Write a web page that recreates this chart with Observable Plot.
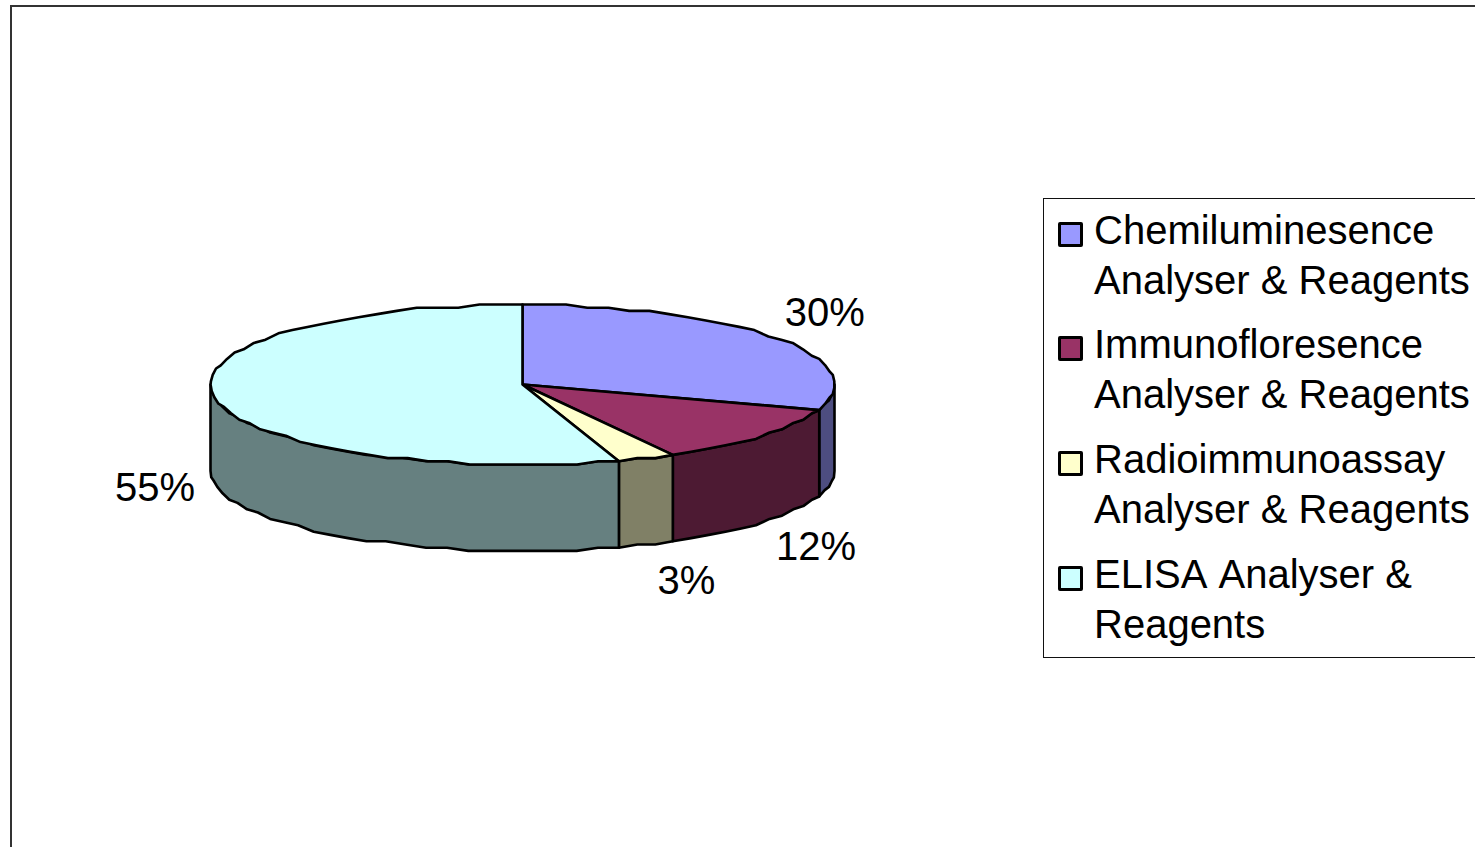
<!DOCTYPE html>
<html>
<head>
<meta charset="utf-8">
<script src="https://cdn.jsdelivr.net/npm/d3@7"></script>
<script src="https://cdn.jsdelivr.net/npm/@observablehq/plot@0.6"></script>
<style>
html,body{margin:0;padding:0;background:#fff;overflow:hidden;width:1475px;height:847px}
body{position:relative;font-family:"Liberation Sans",Arial,sans-serif;font-kerning:none}
#chart{position:absolute;left:0;top:0}
#frame{position:absolute;left:10px;top:5px;width:1500px;height:900px;border:2px solid #333;box-sizing:border-box}
#legend{position:absolute;left:1043px;top:198px;width:480px;height:460px;border:1px solid #111;box-sizing:border-box;background:#fff}
.entry{position:absolute;left:50px;font-size:40px;line-height:50px;color:#000;white-space:pre-line;font-kerning:none}
.swatch{position:absolute;left:14px;width:25px;height:25px;border:3px solid #000;box-sizing:border-box;border-radius:2px}
#chart text{font-kerning:none}
</style>
</head>
<body>
<div id="frame"></div>
<div id="chart"></div>
<div id="legend"></div>
<script>
const categories = [
  "Chemiluminesence\nAnalyser & Reagents",
  "Immunofloresence\nAnalyser & Reagents",
  "Radioimmunoassay\nAnalyser & Reagents",
  "ELISA Analyser &\nReagents"
];
const shares = [30, 12, 3, 55];
const topColors = ["#9999FF", "#993366", "#FFFFCC", "#CCFFFF"];
const sideColors = ["#4D4D80", "#4D1A33", "#808066", "#668080"];

// Label offsets from each slice's mid-rim point, in pie units (x, y)
const labelNudgeX = [0.16, 0.17, 0.128, -0.19];
const labelNudgeY = [-0.30, 0.32, 0.46, 0.06];

const depth = 1.08;      // wall height, in pie y units
const stepDeg = 4;       // rim sampling
const rimGrain = 0.04;   // the reference's rim is a coarse, stepped polygon

const rad = d => d * Math.PI / 180;
const rimX = d => Math.sin(rad(d));
const rimY = d => -Math.round(Math.cos(rad(d)) / rimGrain) * rimGrain;

function arc(a0, a1) {
  const n = Math.max(1, Math.ceil((a1 - a0) / stepDeg));
  return d3.range(n + 1).map(i => a0 + (a1 - a0) * i / n);
}

let cum = 0;
const slices = shares.map((v, i) => {
  const a0 = cum * 3.6; cum += v; const a1 = cum * 3.6;
  return {i, v, a0, a1, mid: (a0 + a1) / 2};
});

const topPts = [], sidePts = [];
for (const s of slices) {
  topPts.push({id: s.i, x: 0, y: 0, c: topColors[s.i]});
  for (const d of arc(s.a0, s.a1)) topPts.push({id: s.i, x: rimX(d), y: rimY(d), c: topColors[s.i]});
  const lo = Math.max(s.a0, 90), hi = Math.min(s.a1, 270);
  if (lo < hi) {
    const a = arc(lo, hi);
    for (const d of a) sidePts.push({id: s.i, x: rimX(d), y: rimY(d), c: sideColors[s.i]});
    for (const d of a.slice().reverse()) sidePts.push({id: s.i, x: rimX(d), y: rimY(d) + depth, c: sideColors[s.i]});
  }
}

const labels = slices.map(s => {
  const wall = (s.mid > 90 && s.mid < 270) ? depth : 0;
  return {
    x: rimX(s.mid) + labelNudgeX[s.i],
    y: -Math.cos(rad(s.mid)) + wall + labelNudgeY[s.i],
    t: s.v + "%"
  };
});

const outline = {stroke: "#000", strokeWidth: 2.6, strokeLinejoin: "round", curve: "linear-closed"};

const chart = Plot.plot({
  width: 1475,
  height: 847,
  margin: 0,
  style: {background: "transparent", fontFamily: '"Liberation Sans", Arial, sans-serif'},
  x: {domain: [-1, 1], range: [210, 834], axis: null},
  y: {domain: [-1, 1], range: [304, 464], axis: null},
  color: {type: "identity"},
  marks: [
    Plot.line(sidePts, {x: "x", y: "y", z: "id", fill: "c", ...outline}),
    Plot.line(topPts, {x: "x", y: "y", z: "id", fill: "c", ...outline}),
    Plot.text(labels, {x: "x", y: "y", text: "t", fontSize: 40, fill: "#000", stroke: null})
  ]
});
document.getElementById("chart").append(chart);

const legend = document.getElementById("legend");
const entryTops = [6, 120, 235, 350];
categories.forEach((c, i) => {
  const sw = document.createElement("div");
  sw.className = "swatch";
  sw.style.top = (entryTops[i] + 17) + "px";
  sw.style.background = topColors[i];
  legend.append(sw);
  const t = document.createElement("div");
  t.className = "entry";
  t.style.top = entryTops[i] + "px";
  t.textContent = c;
  legend.append(t);
});
</script>
</body>
</html>
